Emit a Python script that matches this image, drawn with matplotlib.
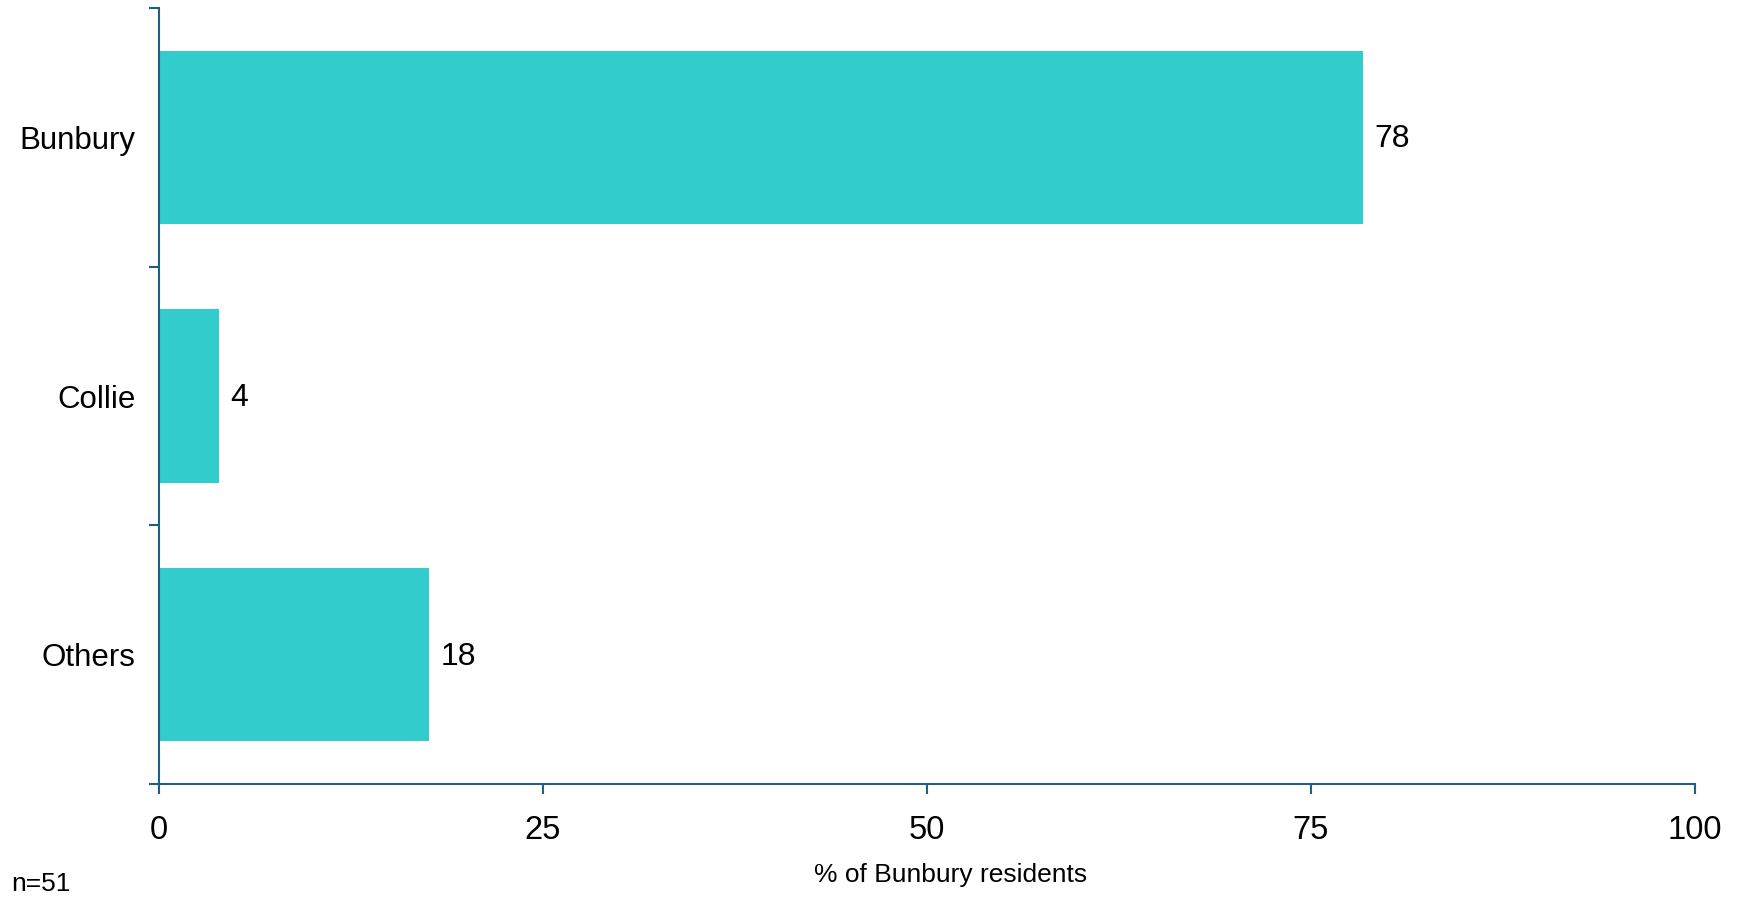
import matplotlib
matplotlib.use("Agg")
import matplotlib.pyplot as plt
import numpy as np

categories = ["Bunbury", "Collie", "Others"]
values = [78.4, 3.9, 17.6]
value_labels = ["78", "4", "18"]
x_ticks = [0, 25, 50, 75, 100]
sample_note = "n=51"
x_title = "% of Bunbury residents"

bar_color = "#33CCCC"
axis_color = "#1F5F7F"

plt.rcParams['font.family'] = ['Liberation Sans', 'DejaVu Sans']

fig = plt.figure(figsize=(17.46, 8.98), dpi=100)
ax = fig.add_axes([159/1746, 1 - 784/898, (1695-159)/1746, (784-8)/898])

y = np.arange(len(categories))[::-1]
ax.barh(y, values, height=0.67, color=bar_color, edgecolor='none', zorder=2)

for yi, v, lab in zip(y, values, value_labels):
    ax.annotate(lab, xy=(v, yi), xytext=(11, -2), textcoords='offset pixels',
                va='center', ha='left', fontsize=23, color='black')

ax.set_xlim(0, 100)
ax.set_ylim(-0.5, len(categories) - 0.5)
ax.set_xticks(x_ticks)
ax.set_xticklabels([str(t) for t in x_ticks], fontsize=23.5)
ax.set_yticks(y)
ax.set_yticklabels(categories, fontsize=22.5)
ax.set_yticks(np.arange(-0.5, len(categories), 1.0), minor=True)

ax.tick_params(axis='y', which='major', length=0, pad=17)
ax.tick_params(axis='y', which='minor', length=7.5, width=1.5, color=axis_color, direction='out')
ax.tick_params(axis='x', which='major', length=7.5, width=1.5, color=axis_color, direction='out', pad=15)

for s in ['top', 'right']:
    ax.spines[s].set_visible(False)
for s in ['left', 'bottom']:
    ax.spines[s].set_color(axis_color)
    ax.spines[s].set_linewidth(1.5)

fig.text(951/1746, 1 - 875/898, x_title, ha='center', va='center', fontsize=19)
fig.text(11/1746, 1 - 884/898, sample_note, ha='left', va='center', fontsize=19)

fig.savefig("out.png", dpi=100)
